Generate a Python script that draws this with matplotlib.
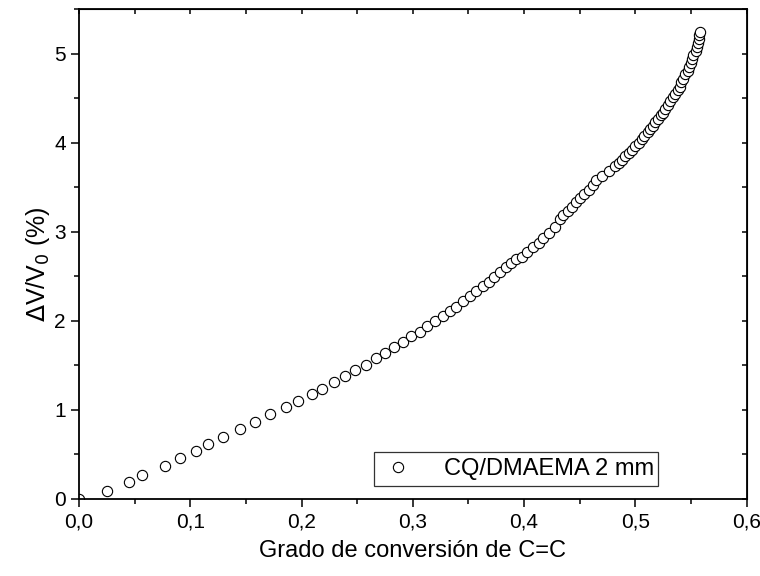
import matplotlib.pyplot as plt
from matplotlib.ticker import MultipleLocator, FuncFormatter, NullFormatter

plt.rcParams['font.family'] = ['Liberation Sans', 'DejaVu Sans']

# conversion degree of C=C (x) and volume shrinkage dV/V0 in % (y)
conversion = [
    0.000, 0.025, 0.045, 0.057, 0.077, 0.091, 0.105, 0.116, 0.129, 0.145,
    0.158, 0.172, 0.186, 0.197, 0.209, 0.218, 0.229, 0.239, 0.248, 0.258,
    0.267, 0.275, 0.283, 0.291, 0.298, 0.306, 0.313, 0.320, 0.327, 0.333,
    0.339, 0.345, 0.351, 0.357, 0.363, 0.368, 0.373, 0.378, 0.384, 0.388,
    0.393, 0.398, 0.403, 0.408, 0.413, 0.417, 0.422, 0.428, 0.432, 0.435,
    0.439, 0.443, 0.447, 0.450, 0.454, 0.458, 0.462, 0.465, 0.470, 0.476,
    0.482, 0.485, 0.488, 0.491, 0.494, 0.497, 0.500, 0.503, 0.506, 0.508,
    0.511, 0.513, 0.516, 0.518, 0.520, 0.523, 0.525, 0.527, 0.529, 0.531,
    0.534, 0.536, 0.538, 0.540, 0.541, 0.543, 0.545, 0.547, 0.548, 0.550,
    0.551, 0.552, 0.554, 0.555, 0.556, 0.557, 0.557, 0.558,
]
shrinkage = [
    0.00, 0.09, 0.19, 0.27, 0.37, 0.46, 0.54, 0.62, 0.70, 0.79,
    0.87, 0.95, 1.03, 1.10, 1.18, 1.24, 1.31, 1.38, 1.45, 1.51,
    1.58, 1.64, 1.71, 1.76, 1.83, 1.88, 1.94, 2.00, 2.06, 2.11,
    2.16, 2.22, 2.28, 2.34, 2.39, 2.44, 2.49, 2.55, 2.60, 2.65,
    2.69, 2.72, 2.77, 2.83, 2.88, 2.93, 2.99, 3.06, 3.15, 3.19,
    3.24, 3.28, 3.33, 3.38, 3.43, 3.47, 3.53, 3.58, 3.63, 3.68,
    3.74, 3.77, 3.81, 3.85, 3.89, 3.92, 3.96, 4.00, 4.04, 4.08,
    4.12, 4.16, 4.19, 4.23, 4.27, 4.31, 4.34, 4.38, 4.42, 4.47,
    4.51, 4.55, 4.59, 4.63, 4.68, 4.72, 4.77, 4.81, 4.85, 4.90,
    4.94, 4.99, 5.03, 5.08, 5.12, 5.17, 5.21, 5.24,
]
series_label = 'CQ/DMAEMA 2 mm'

fig = plt.figure(figsize=(7.6, 5.76), dpi=100)
ax = fig.add_axes([0.1039, 0.1337, 0.8786, 0.8502])

ax.plot(conversion, shrinkage, linestyle='none', marker='o', markersize=7.4,
        markerfacecolor='white', markeredgecolor='black', markeredgewidth=0.8,
        label=series_label, clip_on=True)

ax.set_xlim(0, 0.6)
ax.set_ylim(0, 5.5)

ax.xaxis.set_major_locator(MultipleLocator(0.1))
ax.xaxis.set_minor_locator(MultipleLocator(0.05))
ax.yaxis.set_major_locator(MultipleLocator(1))
ax.yaxis.set_minor_locator(MultipleLocator(0.5))
ax.xaxis.set_major_formatter(FuncFormatter(lambda v, p: f'{v:.1f}'.replace('.', ',')))
ax.yaxis.set_major_formatter(FuncFormatter(lambda v, p: f'{v:.0f}'))

ax.tick_params(which='major', direction='out', length=5.5, width=1.1, labelsize=15, pad=4)
ax.tick_params(which='minor', direction='out', length=3.5, width=1.1)
for spine in ax.spines.values():
    spine.set_linewidth(1.3)

# inward ticks on the top and right frame, no labels
top = ax.secondary_xaxis('top')
top.xaxis.set_major_locator(MultipleLocator(0.1))
top.xaxis.set_minor_locator(MultipleLocator(0.05))
top.xaxis.set_major_formatter(NullFormatter())
top.tick_params(which='both', direction='in', length=3.5, width=1.1)
right = ax.secondary_yaxis('right')
right.yaxis.set_major_locator(MultipleLocator(1))
right.yaxis.set_minor_locator(MultipleLocator(0.5))
right.yaxis.set_major_formatter(NullFormatter())
right.tick_params(which='both', direction='in', length=3.5, width=1.1)

ax.set_xlabel('Grado de conversión de C=C', fontsize=17, labelpad=6)
ax.set_ylabel(r'$\Delta$V/V$_0$ (%)', fontsize=18, labelpad=1)
ax.yaxis.set_label_coords(-0.040, 0.48)

leg = ax.legend(loc='lower left', bbox_to_anchor=(0.442, 0.027, 0.425, 0.065),
                mode='expand', fontsize=17, frameon=True, fancybox=False,
                handletextpad=1.2, borderpad=0.25, handlelength=1.5, borderaxespad=0)
leg.get_frame().set_edgecolor('black')
leg.get_frame().set_linewidth(0.9)

fig.savefig('out.png', dpi=100)
